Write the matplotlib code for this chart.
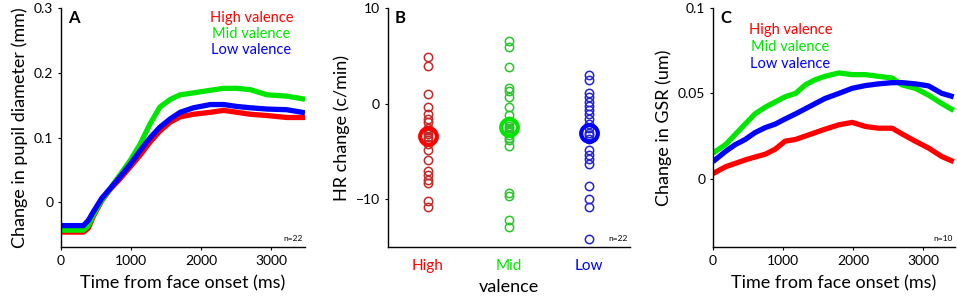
import matplotlib
matplotlib.use('Agg')
import matplotlib.pyplot as plt
import numpy as np

plt.rcParams['font.family'] = ['Lato', 'DejaVu Sans']
plt.rcParams['axes.unicode_minus'] = True

# ---- panel A: pupil diameter ----
t_pupil = [0, 320, 390, 460, 580, 700, 840, 990, 1130, 1270, 1410, 1560, 1700, 1890,
           2130, 2320, 2510, 2700, 2940, 3220, 3440, 3480]
pupil_high = [-0.046, -0.046, -0.040, -0.022, 0.002, 0.020, 0.036, 0.055, 0.073, 0.093,
              0.110, 0.124, 0.132, 0.136, 0.139, 0.142, 0.139, 0.136, 0.134, 0.131,
              0.131, 0.131]
pupil_mid = [-0.043, -0.043, -0.036, -0.020, 0.003, 0.021, 0.042, 0.065, 0.090, 0.121,
             0.147, 0.159, 0.166, 0.169, 0.173, 0.176, 0.176, 0.174, 0.166, 0.164,
             0.160, 0.159]
pupil_low = [-0.036, -0.036, -0.028, -0.015, 0.006, 0.021, 0.039, 0.059, 0.080, 0.0995,
             0.116, 0.129, 0.139, 0.146, 0.151, 0.151, 0.148, 0.146, 0.144, 0.143,
             0.139, 0.138]

# ---- panel B: heart rate change ----
hr_high = [4.9, 3.9, 1.0, -0.3, -1.1, -1.6, -1.9, -2.5, -2.8, -3.0, -3.2, -3.5, -3.8,
           -4.2, -4.9, -5.9, -7.1, -7.5, -8.0, -8.3, -10.2, -10.8]
hr_mid = [6.6, 5.9, 3.8, 1.6, 1.3, 0.7, -0.4, -1.2, -1.8, -2.0, -2.3, -2.6, -2.8,
          -3.0, -3.3, -3.6, -3.8, -4.4, -9.3, -9.7, -12.2, -12.9]
hr_low = [3.0, 2.5, 1.1, 0.7, 0.2, -0.2, -0.7, -1.1, -1.6, -2.1, -2.6, -3.1, -3.3,
          -3.7, -4.9, -5.4, -5.8, -6.3, -8.6, -10.0, -10.8, -14.2]
hr_means = [-3.4, -2.4, -3.1]
groups = ['High', 'Mid', 'Low']

# ---- panel C: GSR ----
t_gsr = [0, 180, 320, 460, 600, 750, 890, 1030, 1180, 1320, 1460, 1600, 1800, 1990,
         2180, 2370, 2560, 2700, 2890, 3080, 3270, 3440]
gsr_high = [0.003, 0.007, 0.009, 0.011, 0.0127, 0.0144, 0.0173, 0.022, 0.023, 0.025,
            0.027, 0.029, 0.0316, 0.033, 0.0306, 0.0296, 0.0296, 0.0263, 0.022, 0.018,
            0.013, 0.010]
gsr_mid = [0.015, 0.020, 0.026, 0.032, 0.038, 0.042, 0.045, 0.048, 0.050, 0.055,
           0.058, 0.060, 0.062, 0.061, 0.061, 0.060, 0.059, 0.055, 0.053, 0.049,
           0.044, 0.040]
gsr_low = [0.010, 0.016, 0.020, 0.023, 0.027, 0.030, 0.032, 0.035, 0.038, 0.041,
           0.044, 0.047, 0.050, 0.053, 0.0546, 0.0556, 0.0563, 0.0563, 0.0556, 0.0544,
           0.050, 0.048]

RED, GREEN, BLUE = '#ff0000', '#00e600', '#0000ff'
RED_D, GREEN_D, BLUE_D = '#c42a2a', '#2cc42c', '#2525cc'

fig = plt.figure(figsize=(9.57, 2.99), dpi=100)
axA = fig.add_axes([0.0637, 0.174, 0.255, 0.799])
axB = fig.add_axes([0.405, 0.174, 0.253, 0.799])
axC = fig.add_axes([0.745, 0.174, 0.253, 0.799])

for ax in (axA, axB, axC):
    ax.spines['top'].set_visible(False)
    ax.spines['right'].set_visible(False)
    ax.spines['left'].set_linewidth(1.0)
    ax.spines['bottom'].set_linewidth(1.0)
    ax.tick_params(direction='out', length=2.5, width=0.8, labelsize=10, pad=3)

# A
for y, c in [(pupil_high, RED), (pupil_mid, GREEN), (pupil_low, BLUE)]:
    axA.plot(t_pupil, y, color=c, lw=3.8, solid_capstyle='butt', solid_joinstyle='round')
axA.set_xlim(0, 3480)
axA.set_ylim(-0.069, 0.3)
axA.set_xticks([0, 1000, 2000, 3000])
axA.set_yticks([0, 0.1, 0.2, 0.3])
axA.set_yticklabels(['0', '0.1', '0.2', '0.3'])
axA.set_xlabel('Time from face onset (ms)', fontsize=13, labelpad=6)
axA.set_ylabel('Change in pupil diameter (mm)', fontsize=13, labelpad=4)
axA.text(0.03, 0.99, 'A', transform=axA.transAxes, fontsize=12, fontweight='bold',
         va='top', ha='left')
for i, (lab, c) in enumerate([('High valence', RED), ('Mid valence', GREEN),
                              ('Low valence', BLUE)]):
    axA.text(0.78, 0.96 - i * 0.068, lab, transform=axA.transAxes, color=c,
             fontsize=10.5, ha='center', va='center')
axA.text(0.99, 0.02, 'n=22', transform=axA.transAxes, fontsize=6, ha='right', va='bottom')

# B
for i, (vals, cd, cm, mu) in enumerate([(hr_high, RED_D, RED, hr_means[0]),
                                       (hr_mid, GREEN_D, GREEN, hr_means[1]),
                                       (hr_low, BLUE_D, BLUE, hr_means[2])]):
    xs = np.full(len(vals), i + 1)
    axB.plot(xs, vals, 'o', mfc='none', mec=cd, ms=6, mew=1.1)
    axB.plot([i + 1], [mu], 'o', mfc='none', mec=cm, ms=12, mew=3)
axB.set_xlim(0.5, 3.5)
axB.set_ylim(-15, 10)
axB.set_yticks([-10, 0, 10])
axB.set_xticks([1, 2, 3])
axB.set_xticklabels(groups, fontsize=11)
for lbl, c in zip(axB.get_xticklabels(), [RED, GREEN, BLUE]):
    lbl.set_color(c)
axB.tick_params(axis='x', length=0, pad=9)
axB.set_xlabel('valence', fontsize=13, labelpad=4)
axB.set_ylabel('HR change (c/min)', fontsize=13, labelpad=4)
axB.text(0.03, 0.99, 'B', transform=axB.transAxes, fontsize=12, fontweight='bold',
         va='top', ha='left')
axB.text(0.99, 0.02, 'n=22', transform=axB.transAxes, fontsize=6, ha='right', va='bottom')

# C
for y, c in [(gsr_high, RED), (gsr_mid, GREEN), (gsr_low, BLUE)]:
    axC.plot(t_gsr, y, color=c, lw=3.8, solid_capstyle='butt', solid_joinstyle='round')
axC.set_xlim(0, 3460)
axC.set_ylim(-0.04, 0.1)
axC.set_xticks([0, 1000, 2000, 3000])
axC.set_yticks([0, 0.05, 0.1])
axC.set_yticklabels(['0', '0.05', '0.1'])
axC.set_xlabel('Time from face onset (ms)', fontsize=13, labelpad=6)
axC.set_ylabel('Change in GSR (um)', fontsize=13, labelpad=4)
axC.text(0.03, 0.99, 'C', transform=axC.transAxes, fontsize=12, fontweight='bold',
         va='top', ha='left')
for i, (lab, c) in enumerate([('High valence', RED), ('Mid valence', GREEN),
                              ('Low valence', BLUE)]):
    axC.text(0.32, 0.91 - i * 0.072, lab, transform=axC.transAxes, color=c,
             fontsize=10.5, ha='center', va='center')
axC.text(0.99, 0.02, 'n=10', transform=axC.transAxes, fontsize=6, ha='right', va='bottom')

fig.savefig('out.png', dpi=100, facecolor='white')
